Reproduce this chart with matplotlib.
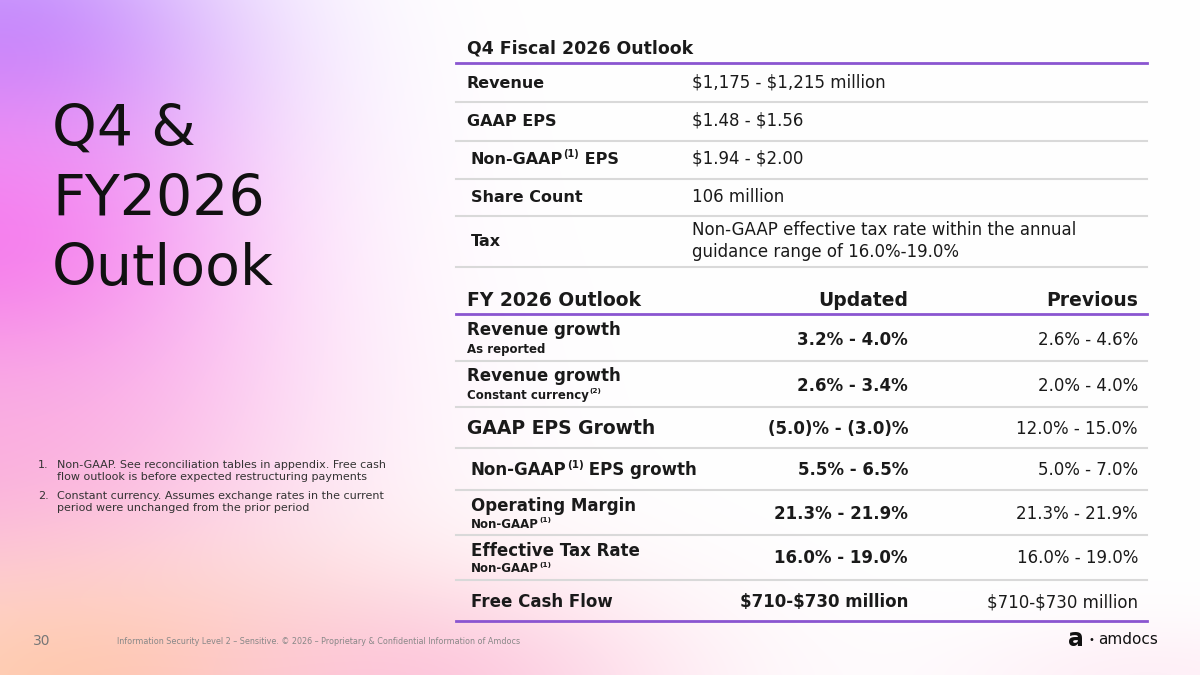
import numpy as np
import matplotlib
matplotlib.use("Agg")
import matplotlib.pyplot as plt

plt.rcParams['font.family'] = ['DejaVu Sans']

# ---- data ----
q4_title = "Q4 Fiscal 2026 Outlook"
q4_labels = [[("Revenue", False)],
             [("GAAP EPS", False)],
             [("Non-GAAP", False), ("(1)", True), (" EPS", False)],
             [("Share Count", False)],
             [("Tax", False)]]
q4_values = ["$1,175 - $1,215 million",
             "$1.48 - $1.56",
             "$1.94 - $2.00",
             "106 million",
             "Non-GAAP effective tax rate within the annual\nguidance range of 16.0%-19.0%"]

fy_header = ["FY 2026 Outlook", "Updated", "Previous"]
fy_labels = [[("Revenue growth", False)],
             [("Revenue growth", False)],
             [("GAAP EPS Growth", False)],
             [("Non-GAAP", False), ("(1)", True), (" EPS growth", False)],
             [("Operating Margin", False)],
             [("Effective Tax Rate", False)],
             [("Free Cash Flow", False)]]
fy_sublabels = [[("As reported", False)],
                [("Constant currency", False), ("(2)", True)],
                None, None,
                [("Non-GAAP", False), ("(1)", True)],
                [("Non-GAAP", False), ("(1)", True)],
                None]
fy_updated = ["3.2% - 4.0%", "2.6% - 3.4%", "(5.0)% - (3.0)%", "5.5% - 6.5%",
              "21.3% - 21.9%", "16.0% - 19.0%", "$710-$730 million"]
fy_previous = ["2.6% - 4.6%", "2.0% - 4.0%", "12.0% - 15.0%", "5.0% - 7.0%",
               "21.3% - 21.9%", "16.0% - 19.0%", "$710-$730 million"]

footnotes = ["Non-GAAP. See reconciliation tables in appendix. Free cash\nflow outlook is before expected restructuring payments",
             "Constant currency. Assumes exchange rates in the current\nperiod were unchanged from the prior period"]

# ---- figure ----
W, H = 1200, 675
fig = plt.figure(figsize=(12, 6.75), dpi=100)
ax = fig.add_axes([0, 0, 1, 1])
ax.set_xlim(0, W)
ax.set_ylim(H, 0)
ax.axis('off')

# gradient background
yy, xx = np.mgrid[0:H, 0:W]
img = np.ones((H, W, 3))
blobs = [((0, 40), (230, 150), (0.72, 0.55, 1.0), 0.95),
         ((-20, 260), (260, 200), (0.96, 0.45, 0.94), 0.95),
         ((-40, 460), (320, 170), (0.98, 0.66, 0.86), 0.8),
         ((80, 690), (330, 140), (1.0, 0.78, 0.64), 0.9),
         ((420, 690), (260, 110), (0.99, 0.72, 0.85), 0.7),
         ((1150, 680), (200, 60), (0.99, 0.85, 0.92), 0.4)]
for (cx, cy), (sx, sy), col, a in blobs:
    w = a * np.exp(-(((xx - cx) / sx) ** 2 + ((yy - cy) / sy) ** 2))
    img = img * (1 - w[..., None]) + np.array(col) * w[..., None]
ax.imshow(img, extent=[0, W, H, 0], aspect='auto', zorder=0)

fig.canvas.draw()
renderer = fig.canvas.get_renderer()
TXT = '#1a1a1a'
PURPLE = '#8a55d0'
GRAY = '#d9d9d9'


def txt(x, y, s, **kw):
    kw.setdefault('color', TXT)
    kw.setdefault('va', 'center')
    kw.setdefault('zorder', 3)
    return ax.text(x, y, s, parse_math=False, **kw)


def rich(x, y, parts, size, weight='normal', color=TXT):
    """draw text pieces left to right, superscripts smaller and raised"""
    for s, sup in parts:
        fs = size * 0.62 if sup else size
        dy = -size * 0.45 if sup else 0
        t = txt(x, y + dy, s, fontsize=fs, fontweight=weight, color=color, ha='left')
        x += t.get_window_extent(renderer).width


# left title
for i, line in enumerate(["Q4 &", "FY2026", "Outlook"]):
    txt(52, 130 + i * 70, line, fontsize=41, color='#111111')

# footnotes
fn_y = [471, 502]
for i, fn in enumerate(footnotes):
    txt(38, fn_y[i] - 6, f"{i + 1}.", fontsize=8, color='#333333')
    txt(57, fn_y[i], fn, fontsize=8, color='#333333', linespacing=1.2)

# ---- Q4 table ----
txt(467, 48, q4_title, fontsize=12.5, fontweight='bold')
ax.plot([456, 1147], [63, 63], color=PURPLE, lw=2, zorder=2)
q4_sep = [102, 141, 179, 216, 267]
q4_y = [83, 121, 159, 197, 241]
q4_x = [467, 467, 471, 471, 471]
for i in range(len(q4_labels)):
    rich(q4_x[i], q4_y[i], q4_labels[i], 11.5, 'bold')
    txt(692, q4_y[i], q4_values[i], fontsize=12, linespacing=1.25)
    ax.plot([456, 1147], [q4_sep[i], q4_sep[i]], color=GRAY, lw=1.5, zorder=2)

# ---- FY table ----
txt(467, 300, fy_header[0], fontsize=13.5, fontweight='bold')
txt(908, 300, fy_header[1], fontsize=13.5, fontweight='bold', ha='right')
txt(1138, 300, fy_header[2], fontsize=13.5, fontweight='bold', ha='right')
ax.plot([456, 1147], [314, 314], color=PURPLE, lw=2, zorder=2)

fy_sep = [361, 407, 448, 490, 535, 580]
fy_val_y = [340, 386, 429, 470, 514, 558, 602]
fy_lab_y = [330, 376, 429, 470, 506, 551, 602]
fy_sub_y = [349, 395, None, None, 524, 569, None]
fy_x = [467, 467, 467, 471, 471, 471, 471]
for i in range(len(fy_labels)):
    size = 13.5 if i == 2 else 12
    rich(fy_x[i], fy_lab_y[i], fy_labels[i], size, 'bold')
    if fy_sublabels[i]:
        rich(fy_x[i], fy_sub_y[i], fy_sublabels[i], 8.5, 'bold')
    txt(908, fy_val_y[i], fy_updated[i], fontsize=12, fontweight='bold', ha='right')
    txt(1138, fy_val_y[i], fy_previous[i], fontsize=12, ha='right')
for s in fy_sep:
    ax.plot([456, 1147], [s, s], color=GRAY, lw=1.5, zorder=2)
ax.plot([456, 1147], [621, 621], color=PURPLE, lw=2, zorder=2)

# ---- footer ----
txt(33, 641, "30", fontsize=10, color='#777777')
txt(117, 641, "Information Security Level 2 \u2013 Sensitive. \u00a9 2026 \u2013 Proprietary & Confidential Information of Amdocs",
    fontsize=5.8, color='#888888')
txt(1068, 639, "a", fontsize=17, fontweight='bold', color='#111111')
txt(1089, 640, "\u2022", fontsize=7, color='#111111')
txt(1098, 640, "amdocs", fontsize=11, color='#111111')

fig.savefig("out.png", dpi=100)
